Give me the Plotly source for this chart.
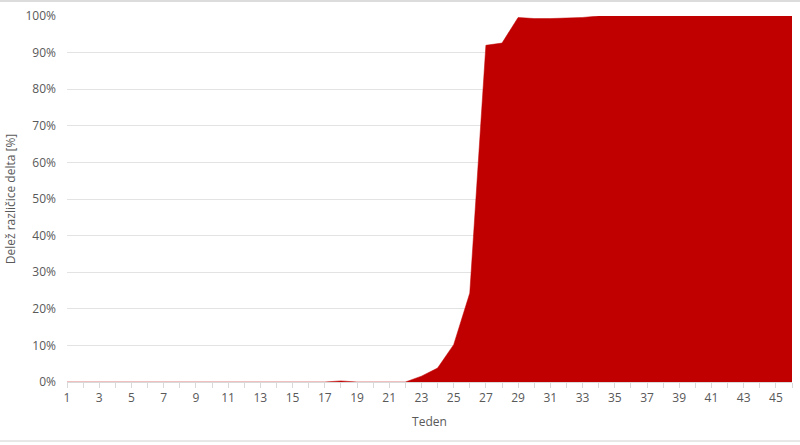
import plotly.graph_objects as go

weeks = list(range(1, 47))
delta_share = [0]*17 + [0.3, 0, 0, 0, 0, 1.6, 3.8, 10.2, 24.3, 92.0, 92.6, 99.6, 99.3, 99.3, 99.4, 99.6,
               100, 99.9, 100, 100, 100, 100, 100, 100, 100, 100, 100, 100, 100]
tick_vals = list(range(1, 47))
tick_text = [str(w) if w % 2 == 1 else "" for w in tick_vals]

fig = go.Figure()
fig.add_trace(go.Scatter(
    x=weeks, y=delta_share, mode="lines", fill="tozeroy",
    line=dict(color="#c00000", width=0.5), fillcolor="#c00000",
    hoverinfo="x+y", showlegend=False,
))

L, R, T, B = 67, 8, 16, 63
W, H = 800, 445
pw, ph = W - L - R, H - T - B

fig.update_layout(
    width=W, height=H,
    margin=dict(l=L, r=R, t=T, b=B, autoexpand=False),
    paper_bgcolor="white", plot_bgcolor="white",
    font=dict(family="Open Sans, Liberation Sans, sans-serif", size=12, color="#595959"),
    xaxis=dict(
        range=[1, 46], tickvals=tick_vals, ticktext=tick_text,
        ticks="outside", ticklen=5, tickcolor="#d9d9d9",
        showline=True, linecolor="#d9d9d9", linewidth=1,
        showgrid=False, zeroline=False, automargin=False,
        title=dict(text="Teden", font=dict(size=12, color="#595959"), standoff=12),
    ),
    yaxis=dict(
        range=[0, 100], dtick=10, ticksuffix="%", ticklabelstandoff=10,
        showgrid=True, gridcolor="#e3e3e3", gridwidth=1,
        zeroline=False, showline=False, automargin=False,
        title=dict(text="Delež različice delta [%]", font=dict(size=12, color="#595959"), standoff=7),
    ),
    shapes=[
        dict(type="line", xref="paper", yref="paper",
             x0=-L/pw, x1=(W - L)/pw, y0=(ph + T - 1)/ph, y1=(ph + T - 1)/ph,
             line=dict(color="#dcdcdc", width=2)),
        dict(type="line", xref="paper", yref="paper",
             x0=-L/pw, x1=(W - L)/pw, y0=-(B - 4)/ph, y1=-(B - 4)/ph,
             line=dict(color="#d0d0d0", width=1)),
    ],
)

fig.write_html("out.html", config={"displayModeBar": False},
               post_script="document.body.style.margin='0';document.body.style.overflow='hidden';")
